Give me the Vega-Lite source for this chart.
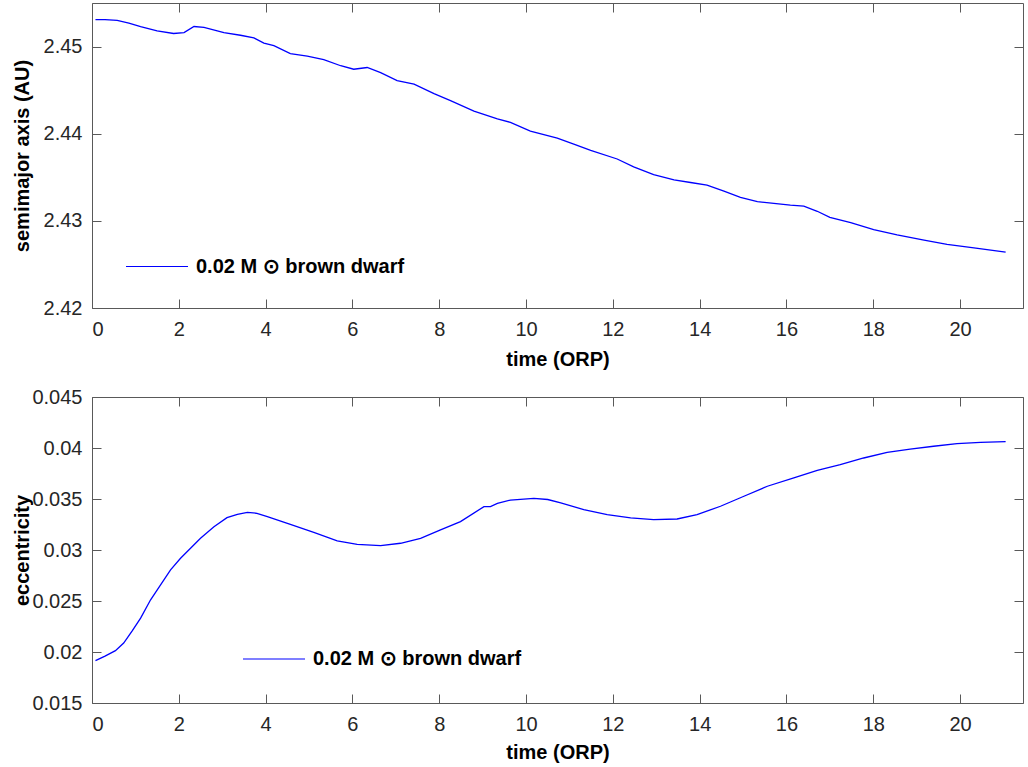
{
  "$schema": "https://vega.github.io/schema/vega-lite/v6.json",
  "background": "white",
  "padding": {"left": 12, "top": 2, "right": 5, "bottom": 5},
  "bounds": "flush",
  "spacing": 89,
  "config": {
    "view": {"stroke": null},
    "font": "Liberation Sans",
    "axis": {
      "labelFont": "Liberation Sans",
      "labelFontSize": 20,
      "labelColor": "#262626",
      "titleFont": "Liberation Sans",
      "titleFontSize": 20,
      "titleFontWeight": "bold",
      "titleColor": "#000000",
      "domainColor": "#595959",
      "tickColor": "#595959",
      "tickSize": -9,
      "grid": false
    },
    "legend": {
      "orient": "none",
      "title": null,
      "symbolType": "stroke",
      "symbolSize": 3844,
      "symbolStrokeWidth": 1.2,
      "symbolStrokeColor": "#0000ff",
      "labelFont": "Liberation Sans",
      "labelFontSize": 20,
      "labelFontWeight": "bold",
      "labelColor": "#000000",
      "labelOffset": 7,
      "padding": 0,
      "labelLimit": 0
    }
  },
  "datasets": {
    "semimajor": [
      {"t": 0.08, "a": 2.4531}, {"t": 0.3, "a": 2.4531}, {"t": 0.58, "a": 2.453}, {"t": 0.85, "a": 2.4527},
      {"t": 1.12, "a": 2.4523}, {"t": 1.5, "a": 2.4518}, {"t": 1.88, "a": 2.4515}, {"t": 2.12, "a": 2.4516},
      {"t": 2.35, "a": 2.4523}, {"t": 2.58, "a": 2.4522}, {"t": 3.04, "a": 2.4516}, {"t": 3.42, "a": 2.4513},
      {"t": 3.73, "a": 2.451}, {"t": 3.96, "a": 2.4504}, {"t": 4.19, "a": 2.4501}, {"t": 4.57, "a": 2.4492},
      {"t": 4.96, "a": 2.4489}, {"t": 5.34, "a": 2.4485}, {"t": 5.73, "a": 2.4478}, {"t": 6.03, "a": 2.4474},
      {"t": 6.34, "a": 2.4476}, {"t": 6.65, "a": 2.447}, {"t": 7.03, "a": 2.4461}, {"t": 7.42, "a": 2.4457},
      {"t": 7.88, "a": 2.4446}, {"t": 8.26, "a": 2.4438}, {"t": 8.8, "a": 2.4426}, {"t": 9.34, "a": 2.4417},
      {"t": 9.64, "a": 2.4413}, {"t": 10.1, "a": 2.4403}, {"t": 10.72, "a": 2.4395}, {"t": 11.1, "a": 2.4388},
      {"t": 11.49, "a": 2.4381}, {"t": 12.1, "a": 2.4371}, {"t": 12.48, "a": 2.4362}, {"t": 12.94, "a": 2.4353},
      {"t": 13.41, "a": 2.4347}, {"t": 13.79, "a": 2.4344}, {"t": 14.17, "a": 2.4341}, {"t": 14.56, "a": 2.4334},
      {"t": 14.94, "a": 2.4327}, {"t": 15.33, "a": 2.4322}, {"t": 15.71, "a": 2.432}, {"t": 16.09, "a": 2.4318},
      {"t": 16.4, "a": 2.4317}, {"t": 16.71, "a": 2.4311}, {"t": 17.0, "a": 2.4304}, {"t": 17.48, "a": 2.4298},
      {"t": 18.01, "a": 2.429}, {"t": 18.55, "a": 2.4284}, {"t": 19.17, "a": 2.4278}, {"t": 19.7, "a": 2.4273},
      {"t": 20.32, "a": 2.4269}, {"t": 21.05, "a": 2.4264}
    ],
    "ecc": [
      {"t": 0.08, "e": 0.01915}, {"t": 0.3, "e": 0.0196}, {"t": 0.54, "e": 0.02013}, {"t": 0.73, "e": 0.02088},
      {"t": 0.93, "e": 0.0221}, {"t": 1.12, "e": 0.02332}, {"t": 1.35, "e": 0.02512}, {"t": 1.58, "e": 0.02659},
      {"t": 1.81, "e": 0.02806}, {"t": 2.04, "e": 0.02919}, {"t": 2.27, "e": 0.03017}, {"t": 2.5, "e": 0.03115},
      {"t": 2.81, "e": 0.03229}, {"t": 3.11, "e": 0.03317}, {"t": 3.35, "e": 0.0335}, {"t": 3.58, "e": 0.03369},
      {"t": 3.8, "e": 0.0336}, {"t": 4.04, "e": 0.03327}, {"t": 4.57, "e": 0.03252}, {"t": 5.11, "e": 0.03173},
      {"t": 5.65, "e": 0.03089}, {"t": 6.11, "e": 0.03056}, {"t": 6.65, "e": 0.03043}, {"t": 7.11, "e": 0.03066},
      {"t": 7.57, "e": 0.03115}, {"t": 8.03, "e": 0.03197}, {"t": 8.49, "e": 0.03278}, {"t": 9.03, "e": 0.03425},
      {"t": 9.18, "e": 0.03425}, {"t": 9.34, "e": 0.03457}, {"t": 9.64, "e": 0.0349}, {"t": 10.18, "e": 0.03506},
      {"t": 10.5, "e": 0.03495}, {"t": 10.8, "e": 0.03461}, {"t": 11.33, "e": 0.03396}, {"t": 11.87, "e": 0.03347},
      {"t": 12.41, "e": 0.03314}, {"t": 12.94, "e": 0.03298}, {"t": 13.48, "e": 0.03304}, {"t": 13.94, "e": 0.03347},
      {"t": 14.48, "e": 0.03429}, {"t": 15.02, "e": 0.03527}, {"t": 15.56, "e": 0.03625}, {"t": 16.17, "e": 0.03706},
      {"t": 16.71, "e": 0.03781}, {"t": 17.24, "e": 0.03837}, {"t": 17.78, "e": 0.03902}, {"t": 18.32, "e": 0.03958},
      {"t": 18.85, "e": 0.0399}, {"t": 19.39, "e": 0.04017}, {"t": 19.93, "e": 0.04043}, {"t": 20.47, "e": 0.04056},
      {"t": 21.05, "e": 0.04063}
    ]
  },
  "resolve": {
    "scale": {"x": "independent", "y": "independent", "color": "independent"},
    "legend": {"color": "independent"}
  },
  "vconcat": [
    {
      "width": 931,
      "height": 305,
      "data": {"name": "semimajor"},
      "layer": [
        {
          "mark": {"type": "line", "color": "#0000ff", "strokeWidth": 1.3},
          "encoding": {
            "x": {"field": "t", "type": "quantitative",
              "scale": {"domain": [0, 21.45], "nice": false, "zero": false},
              "axis": {"orient": "bottom", "values": [0, 2, 4, 6, 8, 10, 12, 14, 16, 18, 20], "title": "time (ORP)", "labelPadding": 20, "titlePadding": 10}},
            "y": {"field": "a", "type": "quantitative",
              "scale": {"domain": [2.42, 2.455], "nice": false, "zero": false},
              "axis": {"orient": "left", "values": [2.42, 2.43, 2.44, 2.45], "format": ".2f", "labelPadding": 19,
                "title": "semimajor axis (AU)", "titleX": -70, "titleY": 152.5, "titleAlign": "center", "titleBaseline": "middle", "titleAngle": -90}},
            "color": {"datum": "0.02 M ⊙ brown dwarf", "type": "nominal",
              "scale": {"range": ["#0000ff"]},
              "legend": {"legendX": 33, "legendY": 231.5}}
          }
        },
        {
          "mark": {"type": "line", "opacity": 0},
          "encoding": {
            "x": {"field": "t", "type": "quantitative",
              "axis": {"orient": "top", "values": [0, 2, 4, 6, 8, 10, 12, 14, 16, 18, 20], "labels": false, "title": null}},
            "y": {"field": "a", "type": "quantitative",
              "axis": {"orient": "right", "values": [2.42, 2.43, 2.44, 2.45], "labels": false, "title": null}}
          }
        }
      ],
      "resolve": {"axis": {"x": "independent", "y": "independent"}}
    },
    {
      "width": 931,
      "height": 306,
      "data": {"name": "ecc"},
      "layer": [
        {
          "mark": {"type": "line", "color": "#0000ff", "strokeWidth": 1.3},
          "encoding": {
            "x": {"field": "t", "type": "quantitative",
              "scale": {"domain": [0, 21.45], "nice": false, "zero": false},
              "axis": {"orient": "bottom", "values": [0, 2, 4, 6, 8, 10, 12, 14, 16, 18, 20], "title": "time (ORP)", "labelPadding": 20, "titlePadding": 8}},
            "y": {"field": "e", "type": "quantitative",
              "scale": {"domain": [0.015, 0.045], "nice": false, "zero": false},
              "axis": {"orient": "left", "values": [0.015, 0.02, 0.025, 0.03, 0.035, 0.04, 0.045], "format": "~g", "labelPadding": 19,
                "title": "eccentricity", "titleX": -70, "titleY": 153, "titleAlign": "center", "titleBaseline": "middle", "titleAngle": -90}},
            "color": {"datum": "0.02 M ⊙ brown dwarf", "type": "nominal",
              "scale": {"range": ["#0000ff"]},
              "legend": {"legendX": 150, "legendY": 230}}
          }
        },
        {
          "mark": {"type": "line", "opacity": 0},
          "encoding": {
            "x": {"field": "t", "type": "quantitative",
              "axis": {"orient": "top", "values": [0, 2, 4, 6, 8, 10, 12, 14, 16, 18, 20], "labels": false, "title": null}},
            "y": {"field": "e", "type": "quantitative",
              "axis": {"orient": "right", "values": [0.015, 0.02, 0.025, 0.03, 0.035, 0.04, 0.045], "labels": false, "title": null}}
          }
        }
      ],
      "resolve": {"axis": {"x": "independent", "y": "independent"}}
    }
  ]
}
